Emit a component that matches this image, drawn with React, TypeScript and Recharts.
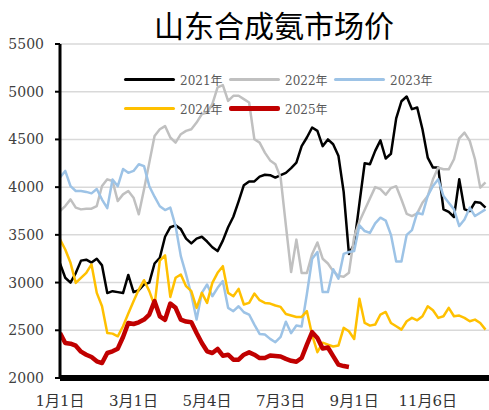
import { LineChart, Line, XAxis, YAxis, CartesianGrid } from 'recharts';

// sampled every 3 trading days, starting at 1月1日
const STEP = 3;

const tickDays = [0, 42, 84, 126, 168, 210];
const tickLabels = ['1月1日', '3月1日', '5月4日', '7月3日', '9月1日', '11月6日'];
const yTicks = [2000, 2500, 3000, 3500, 4000, 4500, 5000, 5500];

const y2021 = [
  3200, 3050, 3000, 3100, 3230, 3240, 3210, 3250, 3180, 2890,
  2910, 2900, 2890, 3080, 2900, 2920, 2980, 3000, 3200, 3260,
  3480, 3580, 3600, 3560, 3460, 3410, 3460, 3480, 3430, 3370,
  3330, 3440, 3580, 3690, 3850, 4020, 4060, 4060, 4110, 4130,
  4125, 4100, 4125, 4150, 4200, 4257, 4430, 4520, 4625, 4590,
  4430, 4500, 4450, 4330, 3950, 3300, 3400, 3830, 4250, 4240,
  4380, 4490, 4300, 4350, 4720, 4900, 4950, 4817, 4835, 4607,
  4310, 4205, 4205, 3767, 3740, 3687, 4082, 3767, 3750, 3844,
  3837, 3785,
];

const y2022 = [
  3750, 3802, 3872, 3785, 3767, 3774, 3774, 3802, 4012, 4082,
  4064, 3854, 3924, 3959, 3889, 3715, 3977, 4257, 4537, 4607,
  4640, 4520, 4467, 4555, 4590, 4607, 4677, 4765, 4782, 4870,
  5045, 5069, 4904, 4957, 4957, 4922, 4887, 4502, 4467, 4362,
  4280, 4240, 4100, 3600, 3110, 3450, 3100, 3100, 3300, 3420,
  3250, 3200, 3120, 3070, 3060, 3102, 3480, 3640, 3760, 3880,
  4000, 3980, 3920, 3990, 4010, 3870, 3720, 3697, 3725, 3837,
  3907, 4082, 4205, 4187, 4187, 4292, 4512, 4572, 4485, 4292,
  3995, 4050,
];

const y2023 = [
  4100, 4170, 4010, 3960, 3960, 3950, 3935, 3980, 3870, 3780,
  4080, 4010, 4190, 4150, 4170, 4240, 4220, 4010, 3900, 3800,
  3760, 3785, 3592, 3277, 3085, 2875, 2612, 2892, 2980, 2857,
  2945, 3015, 2735, 2700, 2752, 2689, 2665, 2560, 2462, 2455,
  2410, 2375, 2430, 2590, 2470, 2550, 2540, 2880, 3250, 3320,
  2900, 2900, 3140, 3040, 3300, 3320, 3330, 3600, 3540, 3520,
  3620, 3680, 3650, 3500, 3220, 3220, 3500, 3550, 3732, 3715,
  3907, 4012, 4082, 3907, 3837, 3767, 3592, 3662, 3785, 3697,
  3732, 3767,
];

const y2024 = [
  3452, 3347, 3207, 2997, 3050, 3102, 3190, 2892, 2752, 2472,
  2465, 2437, 2542, 2675, 2805, 2927, 3025, 2910, 2760, 3230,
  3285, 2850, 3050, 3085, 2962, 2910, 2735, 2892, 2787, 2997,
  3102, 3172, 2892, 2857, 2934, 2770, 2787, 2885, 2815, 2787,
  2780, 2760, 2745, 2670, 2655, 2640, 2640, 2700, 2450, 2270,
  2370, 2350, 2330, 2340, 2525, 2490, 2409, 2830, 2577, 2549,
  2560, 2665, 2692, 2577, 2542, 2507, 2595, 2630, 2605, 2647,
  2752, 2710, 2630, 2647, 2735, 2647, 2654, 2630, 2595, 2612,
  2577, 2507,
];

const y2025 = [
  2472, 2367, 2360, 2339, 2276, 2244, 2220, 2175, 2157, 2262,
  2280, 2307, 2430, 2577, 2566, 2584, 2612, 2665, 2805, 2647,
  2610, 2780, 2735, 2612, 2591, 2584, 2472, 2367, 2280, 2262,
  2304, 2234, 2244, 2192, 2192, 2244, 2269, 2244, 2209, 2209,
  2235, 2230, 2225, 2200, 2180, 2170, 2210, 2350, 2480, 2420,
  2310, 2320, 2230, 2140, 2125, 2115,
];

const series = [
  { key: 'y2021', name: '2021年', color: '#000000', width: 2.5 },
  { key: 'y2022', name: '2022年', color: '#c0c0c0', width: 2.5 },
  { key: 'y2023', name: '2023年', color: '#9dc3e6', width: 2.5 },
  { key: 'y2024', name: '2024年', color: '#ffc000', width: 2.5 },
  { key: 'y2025', name: '2025年', color: '#c00000', width: 4.5 },
];

const chartData = y2021.map((v, i) => ({
  day: i * STEP,
  y2021: v,
  y2022: y2022[i],
  y2023: y2023[i],
  y2024: y2024[i],
  y2025: i < y2025.length ? y2025[i] : null,
}));

const FONT = '"DejaVu Serif", "Noto Sans CJK SC", serif';

// legend drawn as an overlay so it doesn't eat into the plot area
const LegendBox = () => (
  <div style={{ position: 'absolute', left: 124, top: 65, display: 'flex', flexWrap: 'wrap', width: 320 }}>
    {series.map(s => (
      <div key={s.key} style={{ display: 'flex', alignItems: 'center', width: 105, height: 29 }}>
        <span style={{ width: 51, height: s.width, background: s.color, display: 'inline-block', borderRadius: 2 }} />
        <span style={{ marginLeft: 5, fontSize: 12, color: '#595959', fontFamily: FONT }}>{s.name}</span>
      </div>
    ))}
  </div>
);

export default function App() {
  return (
    <div style={{ position: 'absolute', left: 0, top: 0, width: 489, height: 410, background: '#fff', overflow: 'hidden' }}>
      <div style={{
        position: 'absolute', left: 100, top: 9, width: 348, textAlign: 'center',
        fontSize: 30, lineHeight: '30px', fontFamily: '"Noto Sans CJK SC", sans-serif', color: '#000',
      }}>
        山东合成氨市场价
      </div>
      <LineChart width={489} height={410} data={chartData} margin={{ top: 44, right: 0, bottom: 0, left: 0 }}>
        <CartesianGrid vertical={false} stroke="#d9d9d9" strokeWidth={1.5} />
        <XAxis
          dataKey="day"
          type="number"
          domain={[0, 245]}
          ticks={tickDays}
          tickFormatter={(v: number) => tickLabels[tickDays.indexOf(v)] ?? ''}
          axisLine={{ stroke: '#000', strokeWidth: 6 }}
          tickLine={false}
          tickMargin={11}
          height={32}
          tick={{ fill: '#333', fontSize: 15, fontFamily: FONT }}
          allowDataOverflow
        />
        <YAxis
          domain={[2000, 5500]}
          ticks={yTicks}
          width={60}
          axisLine={{ stroke: '#000', strokeWidth: 3 }}
          tickLine={{ stroke: '#000', strokeWidth: 2 }}
          tickSize={5}
          tickMargin={11}
          tick={{ fill: '#404040', fontSize: 14, fontFamily: FONT }}
        />
        {series.map(s => (
          <Line
            key={s.key}
            type="linear"
            dataKey={s.key}
            name={s.name}
            stroke={s.color}
            strokeWidth={s.width}
            strokeLinejoin="round"
            dot={false}
            isAnimationActive={false}
          />
        ))}
      </LineChart>
      <LegendBox />
    </div>
  );
}
